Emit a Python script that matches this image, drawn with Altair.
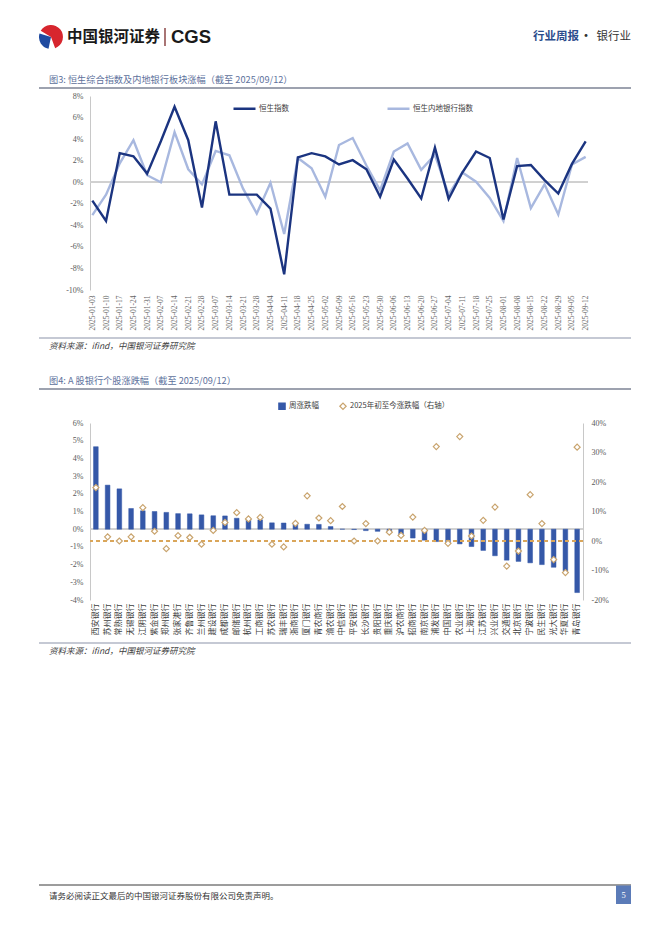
import altair as alt
import pandas as pd

CJK = "Noto Sans CJK SC"
SERIF = "Liberation Serif"
TITLE_C = "#5d719c"

# ---------------- data: figure 3 ----------------
dates = ["2025-01-03", "2025-01-10", "2025-01-17", "2025-01-24", "2025-01-31",
         "2025-02-07", "2025-02-14", "2025-02-21", "2025-02-28", "2025-03-07",
         "2025-03-14", "2025-03-21", "2025-03-28", "2025-04-04", "2025-04-11",
         "2025-04-18", "2025-04-25", "2025-05-02", "2025-05-09", "2025-05-16",
         "2025-05-23", "2025-05-30", "2025-06-06", "2025-06-13", "2025-06-20",
         "2025-06-27", "2025-07-04", "2025-07-11", "2025-07-18", "2025-07-25",
         "2025-08-01", "2025-08-08", "2025-08-15", "2025-08-22", "2025-08-29",
         "2025-09-05", "2025-09-12"]
hsi = [-1.7, -3.6, 2.7, 2.4, 0.8, 3.8, 7.0, 3.9, -2.35, 5.65,
       -1.15, -1.15, -1.15, -2.45, -8.55, 2.3, 2.7, 2.4, 1.65, 2.05,
       1.2, -1.35, 2.1, 0.35, -1.5, 3.2, -1.55, 0.9, 2.85, 2.25,
       -3.45, 1.5, 1.6, 0.2, -1.05, 1.7, 3.8]
hs_bank = [-3.05, -1.15, 1.75, 3.9, 0.65, 0.0, 4.65, 1.2, -0.2, 2.9,
           2.5, -0.6, -2.9, -0.05, -4.8, 2.25, 1.3, -1.35, 3.45, 4.1,
           1.55, -0.75, 2.85, 3.6, 1.15, 2.55, -1.15, 0.9, 0.05, -1.45,
           -3.6, 2.25, -2.4, -0.2, -3.0, 1.65, 2.35]
line_names = ["恒生指数", "恒生内地银行指数"]
y1_ticks = [-10, -8, -6, -4, -2, 0, 2, 4, 6, 8]

# ---------------- data: figure 4 ----------------
banks = ["西安银行", "苏州银行", "常熟银行", "无锡银行", "江阴银行", "紫金银行", "郑州银行",
         "张家港行", "齐鲁银行", "兰州银行", "建设银行", "成都银行", "邮储银行", "杭州银行",
         "工商银行", "苏农银行", "瑞丰银行", "浙商银行", "厦门银行", "青农商行", "渝农银行",
         "中信银行", "平安银行", "长沙银行", "贵阳银行", "重庆银行", "沪农商行", "招商银行",
         "南京银行", "浦发银行", "中国银行", "农业银行", "上海银行", "江苏银行", "兴业银行",
         "交通银行", "北京银行", "宁波银行", "民生银行", "光大银行", "华夏银行", "青岛银行"]
weekly = [4.66, 2.49, 2.28, 1.17, 1.04, 1.0, 0.95, 0.88, 0.87, 0.81, 0.76, 0.75,
          0.62, 0.58, 0.53, 0.36, 0.35, 0.29, 0.28, 0.27, 0.15, 0.0, -0.02, -0.08,
          -0.12, -0.2, -0.35, -0.5, -0.62, -0.7, -0.79, -0.83, -0.98, -1.2, -1.5,
          -1.75, -1.82, -1.9, -2.0, -2.15, -2.35, -3.58]
ytd = [18.1, 1.4, 0.0, 1.4, 11.3, 3.3, -2.6, 1.8, 1.2, -1.1, 3.6, 6.3, 9.6, 7.5,
       8.0, -1.1, -2.0, 6.0, 15.3, 7.8, 6.9, 11.7, 0.0, 5.9, 0.0, 3.0, 1.9, 8.1,
       3.6, 32.0, -0.8, 35.4, 1.7, 7.0, 11.5, -8.5, -3.4, 15.7, 5.9, -6.3, -10.7, 31.8]
bar_names = ["周涨跌幅", "2025年初至今涨跌幅（右轴）"]
y2_left_ticks = [-4, -3, -2, -1, 0, 1, 2, 3, 4, 5, 6]
y2_right_ticks = [-20, -10, 0, 10, 20, 30, 40]

one = pd.DataFrame({"a": [0]})


def T(x, y, s, size=9, color="#333333", weight="normal", align="left", font=CJK, style="normal"):
    return alt.Chart(one).mark_text(text=s, fontSize=size, color=color, fontWeight=weight,
                                    align=align, baseline="middle", font=font,
                                    fontStyle=style).encode(x=alt.value(x), y=alt.value(y))


def R(x1, x2, y, color, w):
    return alt.Chart(one).mark_rule(color=color, strokeWidth=w).encode(
        x=alt.value(x1), x2=alt.value(x2), y=alt.value(y))


W1 = 498
# ---------------- header cell (page top 8, plot-left 89) ----------------
header = alt.layer(
    R(-81, -80, 0.5, "white", 1),
    alt.Chart(one).mark_arc(radius=12, theta=5.25, theta2=9.07, color="#d7262e").encode(
        x=alt.value(-39), y=alt.value(29)),
    alt.Chart(one).mark_arc(radius=12, theta=3.35, theta2=5.0, color="#1f4aa0").encode(
        x=alt.value(-39), y=alt.value(29)),
    T(-23, 29, "中国银河证券", 15.5, "#1a1a1a", "bold"),
    alt.Chart(one).mark_rule(color="#7a2a2a", strokeWidth=1.3).encode(
        x=alt.value(75), y=alt.value(20), y2=alt.value(38)),
    T(81, 29, "CGS", 18.5, "#1a1a1a", "bold", font="Liberation Sans"),
    T(443, 29, "行业周报", 11.5, "#2b4c8c", "bold"),
    T(496, 29, "·", 11.5, "#333333", "bold", align="center"),
    T(541, 29, "银行业", 11.5, "#333333", align="right"),
    T(-41, 72, "图3:  恒生综合指数及内地银行板块涨幅（截至 2025/09/12）", 9.2, TITLE_C),
    R(-51, 541, 80, "#7c8394", 1.3),
).properties(width=W1, height=88)

# ---------------- figure 3: line chart ----------------
df1 = pd.DataFrame({
    "date": dates * 2,
    "value": hsi + hs_bank,
    "series": [line_names[0]] * len(dates) + [line_names[1]] * len(dates),
})
xenc1 = alt.X("date:O", sort=dates, scale=alt.Scale(type="point", padding=0.17),
              axis=alt.Axis(title=None, labelAngle=270, labelFont=SERIF, labelFontSize=7.5,
                            labelColor="#666666", domain=False, ticks=False, labelPadding=5,
                            labelOverlap=False))
yscale1 = alt.Scale(domain=[-10, 8], nice=False, zero=False)
yaxis1 = alt.Axis(title=None, values=y1_ticks, labelExpr="datum.value + '%'", grid=False,
                  ticks=False, domainColor="#c8c8c8", labelFont=SERIF, labelFontSize=8,
                  labelColor="#595959", labelPadding=7, labelOverlap=False)
yenc1 = alt.Y("value:Q", scale=yscale1, axis=yaxis1)
# legends of a concatenated chart are placed relative to the top-level origin (page 89, 8)
cenc1 = alt.Color("series:N", scale=alt.Scale(domain=line_names, range=["#1b3480", "#a8b8df"]),
                  legend=alt.Legend(title=None, orient="none", legendX=142, legendY=88,
                                    direction="horizontal", symbolType="stroke", symbolSize=484,
                                    symbolStrokeWidth=2.5, labelFont=CJK, labelFontSize=7.5,
                                    labelColor="#404040", columnPadding=93, labelOffset=2))
base1 = alt.Chart(df1)
zero1 = base1.mark_rule(color="#d0d0d0", strokeWidth=1).encode(
    y=alt.Y(datum=0, scale=yscale1, axis=yaxis1))
light = base1.transform_filter(alt.datum.series == line_names[1]).mark_line(strokeWidth=2.4).encode(
    x=xenc1, y=yenc1, color=cenc1)
dark = base1.transform_filter(alt.datum.series == line_names[0]).mark_line(strokeWidth=2.4).encode(
    x=xenc1, y=yenc1, color=cenc1)
chart1 = alt.layer(zero1, light, dark).properties(width=W1, height=194)

# ---------------- middle cell (page top 290) ----------------
middle = alt.layer(
    R(-51, 541, 48, "#8b94a9", 1.2),
    T(-41, 56, "资料来源：ifind，中国银河证券研究院", 8.5, "#404040", style="italic"),
    T(-41, 91, "图4:  A 股银行个股涨跌幅（截至 2025/09/12）", 9.2, TITLE_C),
    R(-51, 541, 99, "#7c8394", 1.3),
).properties(width=W1, height=133)

# ---------------- figure 4: bars + diamonds ----------------
df2 = pd.DataFrame({"bank": banks, "weekly": weekly, "ytd": ytd})
base2 = alt.Chart(df2)
xenc2 = alt.X("bank:N", sort=banks, scale=alt.Scale(paddingInner=0.6, paddingOuter=0.3),
              axis=alt.Axis(title=None, labelAngle=270, labelFont=CJK, labelFontSize=8,
                            labelColor="#404040", domain=False, ticks=False, labelPadding=3,
                            labelOverlap=False))
leg2 = alt.Legend(title=None, orient="none", legendX=188, legendY=394, direction="horizontal",
                  symbolSize=40, symbolStrokeWidth=1.2, labelFont=CJK, labelFontSize=7.5,
                  labelColor="#404040", columnPadding=18, labelOffset=3)
fill_enc = alt.Fill("series:N", scale=alt.Scale(domain=bar_names, range=["#3558a8", "white"]), legend=leg2)
stroke_enc = alt.Stroke("series:N", scale=alt.Scale(domain=bar_names, range=["#3558a8", "#c9a46e"]), legend=leg2)
shape_enc = alt.Shape("series:N", scale=alt.Scale(domain=bar_names, range=["square", "diamond"]), legend=leg2)

yscale2L = alt.Scale(domain=[-4, 6], nice=False, zero=False)
yaxis2L = alt.Axis(title=None, values=y2_left_ticks, labelExpr="datum.value + '%'",
                   grid=False, ticks=False, domainColor="#c8c8c8", labelFont=SERIF,
                   labelFontSize=8, labelColor="#595959", labelPadding=7, labelOverlap=False)
yscale2R = alt.Scale(domain=[-20, 40], nice=False, zero=False)

zero2 = base2.mark_rule(color="#d0d0d0", strokeWidth=1).encode(
    y=alt.Y(datum=0, scale=yscale2L, axis=None))
bars = base2.transform_calculate(series="'周涨跌幅'").mark_bar(strokeWidth=0.5).encode(
    x=xenc2, y=alt.Y("weekly:Q", scale=yscale2L, axis=yaxis2L),
    fill=fill_enc, stroke=stroke_enc)
dash = base2.mark_rule(color="#d9a55a", strokeWidth=1.1, strokeDash=[4, 3]).encode(
    y=alt.Y(datum=0, scale=yscale2R, axis=None))
pts = base2.transform_calculate(series="'2025年初至今涨跌幅（右轴）'").mark_point(
    size=36, strokeWidth=1.2, opacity=1).encode(
    x=xenc2,
    y=alt.Y("ytd:Q", scale=yscale2R,
            axis=alt.Axis(title=None, orient="right", values=y2_right_ticks,
                          labelExpr="datum.value + '%'", grid=False, ticks=False,
                          domainColor="#c8c8c8", labelFont=SERIF, labelFontSize=8,
                          labelColor="#595959", labelPadding=8, labelOverlap=False)),
    fill=fill_enc, stroke=stroke_enc, shape=shape_enc)
chart2 = alt.layer(zero2, bars, dash, pts).resolve_scale(y="independent").properties(
    width=493, height=177)

# ---------------- footer cell (page top 600) ----------------
footer = alt.layer(
    R(-51, 541, 43, "#8b94a9", 1.2),
    T(-41, 51, "资料来源：ifind，中国银河证券研究院", 8.5, "#404040", style="italic"),
    R(-51, 541, 285, "#3a3a3a", 1),
    T(-41, 296, "请务必阅读正文最后的中国银河证券股份有限公司免责声明。", 8.5, "#333333"),
    alt.Chart(one).mark_rect(color="#5b7bb8").encode(
        x=alt.value(526), x2=alt.value(541), y=alt.value(285.5), y2=alt.value(304)),
    T(533.5, 295, "5", 8.5, "white", align="center", font=SERIF),
).properties(width=W1, height=310)

chart = alt.vconcat(header, chart1, middle, chart2, footer, spacing=0, bounds="flush").properties(
    padding=0, background="white").configure_view(stroke=None)

chart.save("out.html", embed_options={"renderer": "svg", "actions": False})
